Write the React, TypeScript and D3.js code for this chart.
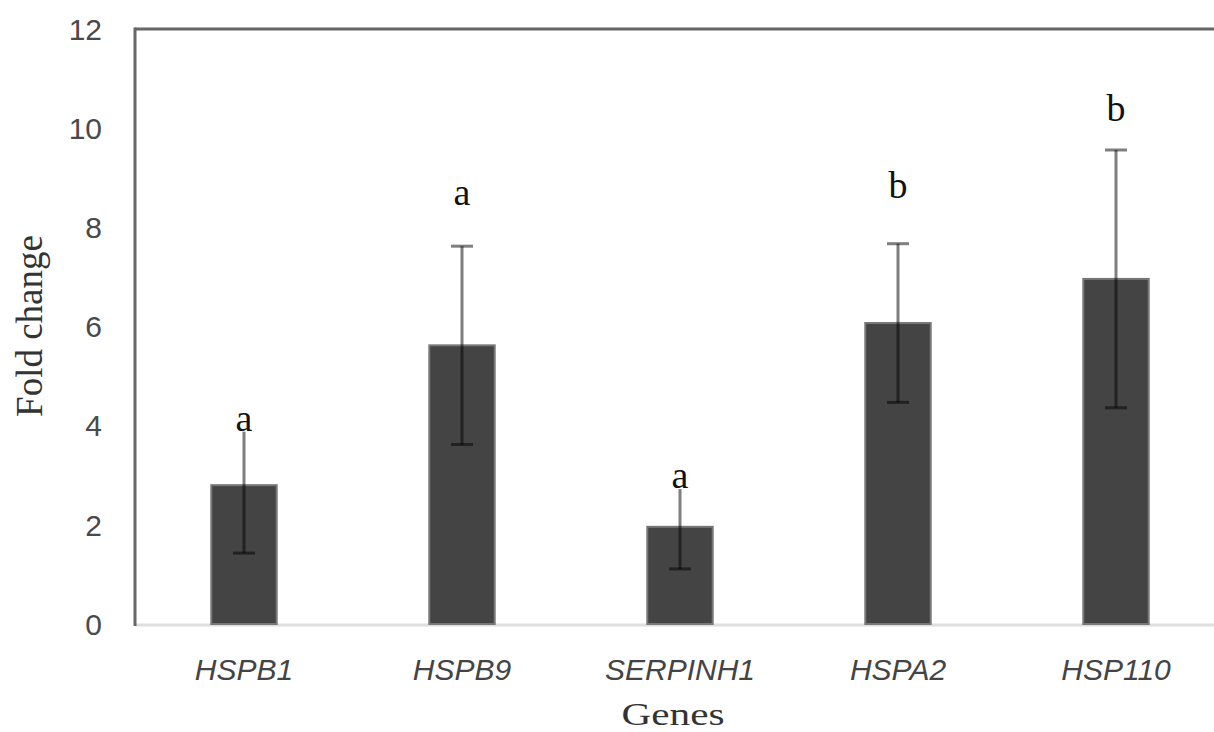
import React from "react";
import { scaleBand, scaleLinear } from "d3";

const genes = ["HSPB1", "HSPB9", "SERPINH1", "HSPA2", "HSP110"];
const foldChange = [2.8, 5.62, 1.96, 6.07, 6.96];
const errorSize = [1.37, 2.0, 0.85, 1.6, 2.6];
const groupLetters = ["a", "a", "a", "b", "b"];
const letterAt = [3.9, 8.45, 2.74, 8.6, 10.15];
const yTicks = [0, 2, 4, 6, 8, 10, 12];

export default function App() {
  const width = 1214;
  const height = 732;
  const margin = { top: 29, right: -11, bottom: 108, left: 135 };
  const innerBottom = height - margin.bottom;

  const xScale = scaleBand()
    .domain(genes)
    .range([margin.left, width - margin.right])
    .paddingInner(0.7)
    .paddingOuter(0.35);
  const yScale = scaleLinear().domain([0, 12]).range([innerBottom, margin.top]);

  const bw = xScale.bandwidth();

  return (
    <svg
      width={width}
      height={height}
      style={{ position: "absolute", left: 0, top: 0, background: "#fff" }}
    >
      {/* frame */}
      <line x1={margin.left} x2={width + 20} y1={margin.top} y2={margin.top} stroke="#666" strokeWidth={3} />
      <line x1={margin.left} x2={width + 20} y1={innerBottom + 1} y2={innerBottom + 1} stroke="#dedede" strokeWidth={3} />
      <line x1={margin.left} x2={margin.left} y1={margin.top - 1.5} y2={innerBottom + 2} stroke="#666" strokeWidth={3} />

      {/* y ticks */}
      {yTicks.map((t) => (
        <text
          key={t}
          x={102}
          y={yScale(t)}
          dy="0.36em"
          textAnchor="end"
          fontFamily="'Liberation Sans', Arial, sans-serif"
          fontSize={30}
          fill="#4a4a4a"
        >
          {t}
        </text>
      ))}

      {/* bars */}
      {genes.map((g, i) => {
        const cx = xScale(g)! + bw / 2;
        const hi = yScale(foldChange[i] + errorSize[i]);
        const lo = yScale(foldChange[i] - errorSize[i]);
        const ly = yScale(letterAt[i]);
        return (
          <g key={g}>
            <rect
              x={xScale(g)}
              y={yScale(foldChange[i])}
              width={bw}
              height={innerBottom - yScale(foldChange[i])}
              fill="#444"
              stroke="#777"
              strokeWidth={2}
            />
            <g stroke="rgba(0,0,0,0.5)" strokeWidth={3}>
              <line x1={cx} x2={cx} y1={hi} y2={lo} />
              <line x1={cx - 11} x2={cx + 11} y1={hi} y2={hi} />
              <line x1={cx - 11} x2={cx + 11} y1={lo} y2={lo} />
            </g>
            {/* letter label box (white, hides what is behind it) */}
            <rect x={cx - 13} y={ly - 30} width={26} height={31} fill="#fff" />
            <text
              x={cx}
              y={ly}
              textAnchor="middle"
              fontFamily="'Liberation Serif', 'Times New Roman', serif"
              fontSize={38}
              fill="#111"
            >
              {groupLetters[i]}
            </text>
            <text
              x={cx}
              y={680}
              textAnchor="middle"
              fontFamily="'Liberation Sans', Arial, sans-serif"
              fontStyle="italic"
              fontSize={30}
              fill="#444"
            >
              {g}
            </text>
          </g>
        );
      })}

      {/* axis titles */}
      <text
        x={673}
        y={725}
        textAnchor="middle"
        fontFamily="'Liberation Serif', 'Times New Roman', serif"
        fontSize={32}
        fill="#333"
        textLength={103}
        lengthAdjust="spacingAndGlyphs"
      >
        Genes
      </text>
      <text
        transform="translate(42,326) rotate(-90)"
        textAnchor="middle"
        fontFamily="'Liberation Serif', 'Times New Roman', serif"
        fontSize={37}
        fill="#333"
      >
        Fold change
      </text>
    </svg>
  );
}
